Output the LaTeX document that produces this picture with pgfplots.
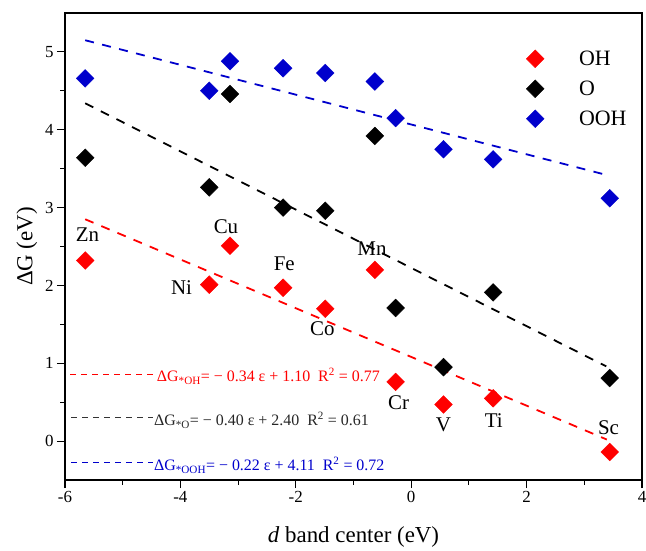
\documentclass[border=0pt]{standalone}
\usepackage{fontspec}
\setmainfont{Liberation Serif}
\usepackage{pgfplots}
\pgfplotsset{compat=1.18}
\usepackage{pgfplotstable}
\definecolor{myblue}{RGB}{0,0,204}
\definecolor{myred}{RGB}{255,0,0}
\pgfplotstableread{
x y
-5.65 2.32
-3.50 2.01
-3.14 2.51
-2.22 1.97
-1.49 1.70
-0.63 2.20
-0.27 0.76
0.56 0.47
1.42 0.55
3.44 -0.14
}\ohdata
\pgfplotstableread{
x y
-5.65 3.64
-3.50 3.26
-3.14 4.46
-2.22 3.00
-1.49 2.96
-0.63 3.92
-0.27 1.71
0.56 0.95
1.42 1.91
3.44 0.81
}\odata
\pgfplotstableread{
x y
-5.65 4.66
-3.50 4.50
-3.14 4.88
-2.22 4.79
-1.49 4.73
-0.63 4.62
-0.27 4.15
0.56 3.75
1.42 3.62
3.44 3.12
}\oohdata
\begin{document}
\begin{tikzpicture}
\begin{axis}[
 scale only axis, width=577bp, height=467bp,
 xmin=-6, xmax=4, ymin=-0.5, ymax=5.5,
 xtick={-6,-4,...,4}, ytick={0,1,...,5},
 minor x tick num=1, minor y tick num=1,
 tick align=outside, xtick pos=bottom, ytick pos=left,
 major tick length=8bp, minor tick length=4.5bp,
 axis line style={line width=1.4pt},
 every tick/.style={line width=1.1pt, black},
 /pgf/number format/assume math mode=true,
 tick label style={font=\fontsize{17}{20}\selectfont},
 xlabel={\textit{d} band center (eV)}, ylabel={ΔG (eV)},
 label style={font=\fontsize{23}{27}\selectfont},
 x label style={at={(axis description cs:0.5,-0.122)}, anchor=center},
 y label style={at={(axis description cs:-0.066,0.5)}, anchor=center},
 legend style={draw=none, fill=none, at={(axis description cs:0.794,0.928)}, anchor=north west,
   font=\fontsize{22}{26}\selectfont, row sep=10bp,
   /tikz/every odd column/.append style={column sep=33bp}},
 legend cell align=left,
]
\coordinate (sw) at (rel axis cs:0,0);
\coordinate (ne) at (rel axis cs:1,1);
% fit lines
\addplot[myred, line width=1.8pt, dash pattern=on 9bp off 8.5bp, forget plot] coordinates {(-5.65,2.85) (3.39,0.02)};
\addplot[black, line width=1.8pt, dash pattern=on 9bp off 8.5bp, forget plot] coordinates {(-5.65,4.34) (3.38,0.96)};
\addplot[myblue, line width=1.8pt, dash pattern=on 9bp off 8.5bp, forget plot] coordinates {(-5.65,5.15) (3.38,3.42)};
% data
\addplot[only marks, mark=square*, mark size=6.3pt, mark options={rotate=45, fill=myred, draw=myred}, color=myred] table {\ohdata};
\addlegendentry{OH}
\addplot[only marks, mark=square*, mark size=6.3pt, mark options={rotate=45, fill=black, draw=black}, color=black] table {\odata};
\addlegendentry{O}
\addplot[only marks, mark=square*, mark size=6.3pt, mark options={rotate=45, fill=myblue, draw=myblue}, color=myblue] table {\oohdata};
\addlegendentry{OOH}
% equation keys
\addplot[myred, line width=1.1pt, dash pattern=on 6bp off 5bp, forget plot] coordinates {(-5.91,0.856) (-4.45,0.856)};
\addplot[black!80, line width=1.1pt, dash pattern=on 6bp off 5bp, forget plot] coordinates {(-5.89,0.30) (-4.48,0.30)};
\addplot[myblue, line width=1.1pt, dash pattern=on 6bp off 5bp, forget plot] coordinates {(-5.89,-0.28) (-4.48,-0.28)};
\node[anchor=west, myred, font=\fontsize{16}{19}\selectfont, inner sep=0pt] at (axis cs:-4.41,0.83) {ΔG\textsubscript{*OH}= − 0.34 ε + 1.10\ \ R\textsuperscript{2} = 0.77};
\node[anchor=west, black!85, font=\fontsize{16}{19}\selectfont, inner sep=0pt] at (axis cs:-4.46,0.27) {ΔG\textsubscript{*O}= − 0.40 ε + 2.40\ \ R\textsuperscript{2} = 0.61};
\node[anchor=west, myblue, font=\fontsize{16}{19}\selectfont, inner sep=0pt] at (axis cs:-4.46,-0.31) {ΔG\textsubscript{*OOH}= − 0.22 ε + 4.11\ \ R\textsuperscript{2} = 0.72};
% element labels
\begin{scope}[every node/.style={font=\fontsize{21}{24}\selectfont, inner sep=0pt}]
\node at (axis cs:-5.61,2.65) {Zn};
\node at (axis cs:-3.21,2.75) {Cu};
\node at (axis cs:-3.98,1.97) {Ni};
\node at (axis cs:-2.20,2.28) {Fe};
\node at (axis cs:-0.68,2.47) {Mn};
\node at (axis cs:-1.54,1.44) {Co};
\node at (axis cs:-0.22,0.49) {Cr};
\node at (axis cs:0.56,0.21) {V};
\node at (axis cs:1.43,0.26) {Ti};
\node at (axis cs:3.42,0.17) {Sc};
\end{scope}
\end{axis}
\pgfresetboundingbox
\path ([shift={(-65bp,-71bp)}]sw) rectangle ([shift={(4bp,13bp)}]ne);
\end{tikzpicture}
\end{document}
